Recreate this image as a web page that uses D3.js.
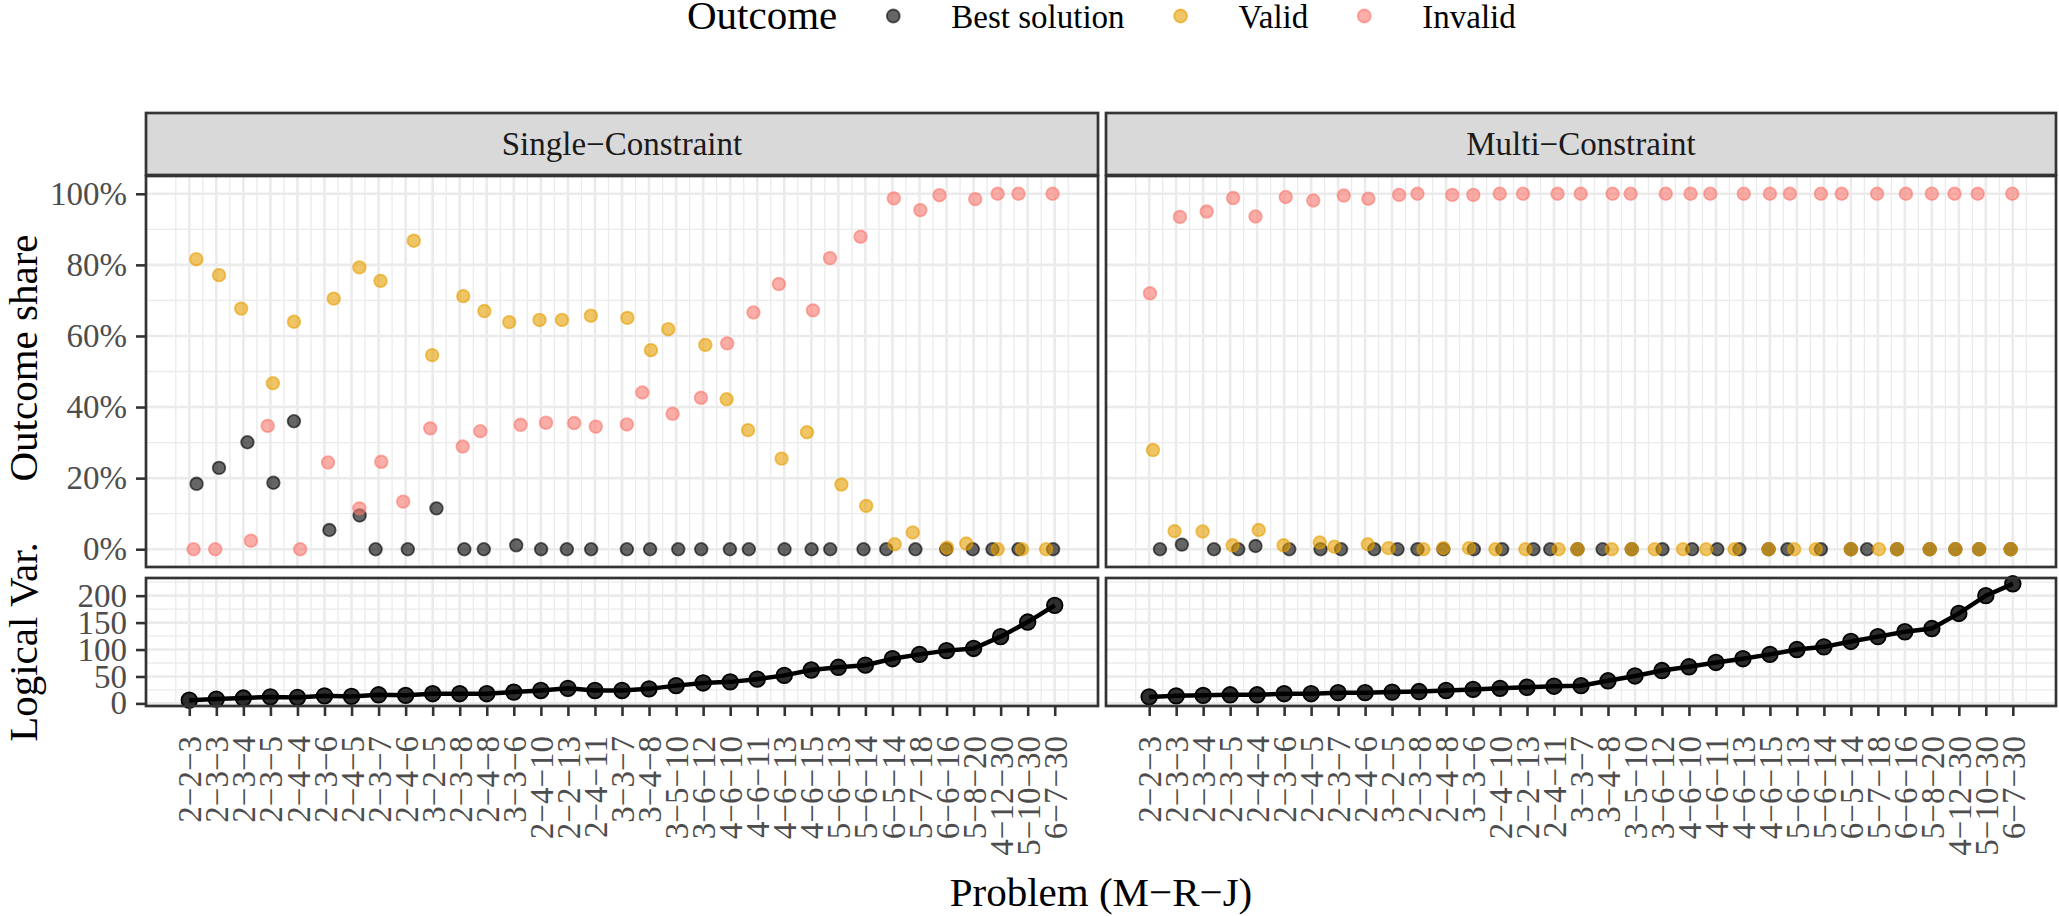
<!DOCTYPE html>
<html>
<head>
<meta charset="utf-8">
<script src="https://cdn.jsdelivr.net/npm/d3@7"></script>
<style>
body { margin: 0; background: #fff; }
svg text { font-family: "Liberation Serif", "Times New Roman", Times, serif !important; }
</style>
</head>
<body>
<div id="chart"></div>
<script>
// problems (M-R-J), same order in both facets
var problems = ["2−2−3", "2−3−3", "2−3−4", "2−3−5", "2−4−4", "2−3−6", "2−4−5", "2−3−7", "2−4−6", "3−2−5",
  "2−3−8", "2−4−8", "3−3−6", "2−4−10", "2−2−13", "2−4−11", "3−3−7", "3−4−8", "3−5−10", "3−6−12",
  "4−6−10", "4−6−11", "4−6−13", "4−6−15", "5−6−13", "5−6−14", "6−5−14", "5−7−18", "6−6−16", "5−8−20",
  "4−12−30", "5−10−30", "6−7−30"];

var outcomes = ["Best solution", "Valid", "Invalid"];
var outcomeColors = ["#000000", "#E69F00", "#F8766D"];

// outcome share in %
var singleBest = [18.4, 22.9, 30.1, 18.7, 36.0, 5.4, 9.5, 0, 0, 11.5, 0, 0, 1.1, 0, 0, 0, 0,
  0, 0, 0, 0, 0, 0, 0, 0, 0, 0, 0, 0, 0, 0, 0, 0];
var singleValid = [81.6, 77.1, 67.7, 46.7, 64.0, 70.5, 79.3, 75.5, 86.8, 54.6, 71.2, 67.0, 63.9, 64.5, 64.5, 65.7, 65.1,
  56.0, 61.9, 57.5, 42.2, 33.5, 25.5, 32.9, 18.2, 12.2, 1.4, 4.7, 0.4, 1.6, 0, 0, 0];
var singleInvalid = [0, 0, 2.4, 34.7, 0, 24.4, 11.5, 24.6, 13.4, 34.0, 28.9, 33.2, 35.0, 35.6, 35.5, 34.5, 35.1,
  44.1, 38.1, 42.6, 57.9, 66.6, 74.6, 67.2, 81.9, 87.9, 98.7, 95.4, 99.6, 98.5, 100, 100, 100];

var multiBest = [0, 1.3, 0, 0, 0.9, 0, 0, 0, 0, 0, 0, 0, 0, 0, 0, 0, 0,
  0, 0, 0, 0, 0, 0, 0, 0, 0, 0, 0, 0, 0, 0, 0, 0];
var multiValid = [27.9, 5.1, 5.0, 1.1, 5.4, 1.1, 1.9, 0.7, 1.4, 0.3, 0, 0.3, 0.3, 0, 0, 0, 0,
  0, 0, 0, 0, 0, 0, 0, 0, 0, 0, 0, 0, 0, 0, 0, 0];
var multiInvalid = [72.0, 93.5, 95.0, 98.8, 93.6, 99.1, 98.1, 99.5, 98.6, 99.7, 100, 99.7, 99.7, 100, 100, 100, 100,
  100, 100, 100, 100, 100, 100, 100, 100, 100, 100, 100, 100, 100, 100, 100, 100];

// horizontal jitter of the points (in problem units), as seen on the plot
var singleBestJitter = [0.27, 0.1, 0.15, 0.11, -0.13, 0.18, 0.3, -0.11, 0.08, 0.14, 0.17, -0.11, 0.09, 0.01, -0.04, -0.14, 0.18,
  0.04, 0.08, -0.07, -0.01, -0.31, 0.01, 0.01, -0.3, -0.07, -0.23, -0.15, -0.01, -0.03, -0.3, -0.34, -0.06];
var singleValidJitter = [0.26, 0.1, -0.08, 0.09, -0.13, 0.34, 0.29, 0.07, 0.3, -0.02, 0.13, -0.09, -0.17, -0.05, -0.22, -0.15, 0.2,
  0.07, -0.29, 0.08, -0.13, -0.34, -0.1, -0.16, 0.11, 0.03, 0.08, -0.25, 0.02, -0.27, -0.11, -0.21, -0.32];
var singleInvalidJitter = [0.16, -0.04, 0.28, -0.1, 0.1, 0.13, 0.29, 0.1, -0.09, -0.09, 0.11, -0.24, 0.25, 0.19, 0.23, 0.03, 0.18,
  -0.25, -0.13, -0.08, -0.11, -0.14, -0.2, 0.06, -0.31, -0.18, 0.05, 0.03, -0.26, 0.06, -0.11, -0.34, -0.08];
var multiBestJitter = [0.4, 0.21, 0.4, 0.3, -0.06, 0.19, 0.35, 0.11, 0.34, 0.2, -0.06, -0.1, 0.03, 0.08, 0.24, -0.14, -0.13,
  -0.2, -0.12, 0.02, 0.12, 0.05, -0.13, -0.05, -0.35, -0.11, 0, -0.4, -0.29, -0.08, -0.13, -0.25, -0.08];
var multiValidJitter = [0.14, -0.06, -0.02, 0.09, 0.06, -0.02, 0.32, -0.14, 0.1, -0.13, 0.16, -0.1, -0.15, -0.17, -0.06, 0.17, -0.13,
  0.14, -0.12, -0.27, -0.22, -0.36, -0.31, -0.05, -0.1, -0.3, 0, 0.04, -0.29, -0.08, -0.13, -0.25, -0.08];
var multiInvalidJitter = [0.03, 0.14, 0.13, 0.11, -0.06, 0.06, 0.08, 0.21, 0.12, 0.26, -0.06, 0.23, 0.01, -0.01, -0.15, 0.13, -0.01,
  0.17, -0.16, 0.14, 0.06, -0.21, 0.03, 0, -0.26, -0.11, -0.34, -0.03, 0.04, 0, -0.16, -0.3, -0.02];

// number of logical variables
var singleVars = [6, 8, 10, 12, 11, 14, 13, 16, 15, 18, 18, 18, 21, 24, 28, 24, 24,
  27, 33, 38, 40, 45, 52, 62, 67, 71, 83, 91, 98, 102, 124, 151, 182];
var multiVars = [12, 14, 15, 16, 16, 18, 18, 20, 20, 21, 22, 24, 26, 28, 30, 32, 33,
  42, 51, 61, 68, 76, 83, 91, 100, 105, 115, 124, 133, 139, 167, 200, 222];

var shareTicks = [0, 20, 40, 60, 80, 100];
var varTicks = [0, 50, 100, 150, 200];

var width = 2059, height = 916;
var serif = "'Liberation Serif', 'Times New Roman', Times, serif";
var stripTop = 113, stripBottom = 175;
var topY0 = 176, topY1 = 567, botY0 = 578, botY1 = 706;
var gridColor = "#EBEBEB", borderColor = "#333333", tickTextColor = "#4D4D4D";

var panels = [
  {title: "Single−Constraint", left: 146, right: 1098,
   series: [singleBest, singleValid, singleInvalid],
   jitter: [singleBestJitter, singleValidJitter, singleInvalidJitter], vars: singleVars},
  {title: "Multi−Constraint", left: 1106, right: 2056,
   series: [multiBest, multiValid, multiInvalid],
   jitter: [multiBestJitter, multiValidJitter, multiInvalidJitter], vars: multiVars}
];

var svg = d3.select("#chart").append("svg")
  .attr("width", width).attr("height", height)
  .attr("font-family", serif);
svg.append("rect").attr("width", width).attr("height", height).attr("fill", "#fff");

var n = problems.length;
var idx = d3.range(1, n + 1);
var xPad = (n - 1) * 0.05;

var yShare = d3.scaleLinear().domain([-5, 105]).range([topY1, topY0]);
var allVars = singleVars.concat(multiVars);
var vMin = d3.min(allVars), vMax = d3.max(allVars), vPad = (vMax - vMin) * 0.05;
var yVars = d3.scaleLinear().domain([vMin - vPad, vMax + vPad]).range([botY1, botY0]);

function drawGrid(g, x, y, yMajor, yStep, top, bottom, left, right) {
  var xMinor = d3.range(0.5, n + 1, 1);
  var yMinor = d3.range(-yStep / 2, d3.max(yMajor) + yStep, yStep)
    .filter(function (v) { return y(v) >= top && y(v) <= bottom; });
  g.append("rect").attr("x", left).attr("y", top)
    .attr("width", right - left).attr("height", bottom - top).attr("fill", "#fff");
  g.selectAll(null).data(xMinor).enter().append("line")
    .attr("x1", function (d) { return x(d); }).attr("x2", function (d) { return x(d); })
    .attr("y1", top).attr("y2", bottom)
    .attr("stroke", gridColor).attr("stroke-width", 1.3);
  g.selectAll(null).data(yMinor).enter().append("line")
    .attr("x1", left).attr("x2", right)
    .attr("y1", function (d) { return y(d); }).attr("y2", function (d) { return y(d); })
    .attr("stroke", gridColor).attr("stroke-width", 1.3);
  g.selectAll(null).data(idx).enter().append("line")
    .attr("x1", function (d) { return x(d); }).attr("x2", function (d) { return x(d); })
    .attr("y1", top).attr("y2", bottom)
    .attr("stroke", gridColor).attr("stroke-width", 2.6);
  g.selectAll(null).data(yMajor).enter().append("line")
    .attr("x1", left).attr("x2", right)
    .attr("y1", function (d) { return y(d); }).attr("y2", function (d) { return y(d); })
    .attr("stroke", gridColor).attr("stroke-width", 2.6);
}

function styleAxis(ax) {
  ax.attr("font-family", serif).attr("font-size", 33);
  ax.select(".domain").remove();
  ax.selectAll(".tick line").attr("stroke", borderColor).attr("stroke-width", 2.6);
  ax.selectAll(".tick text").attr("fill", tickTextColor);
}

panels.forEach(function (p, pi) {
  var x = d3.scaleLinear().domain([1 - xPad, n + xPad]).range([p.left, p.right]);
  var g = svg.append("g");

  // strip
  g.append("rect").attr("x", p.left).attr("y", stripTop)
    .attr("width", p.right - p.left).attr("height", stripBottom - stripTop)
    .attr("fill", "#D9D9D9").attr("stroke", borderColor).attr("stroke-width", 2.7);
  g.append("text").attr("x", (p.left + p.right) / 2).attr("y", (stripTop + stripBottom) / 2)
    .attr("dy", "0.33em").attr("text-anchor", "middle")
    .attr("font-size", 33).attr("fill", "#1A1A1A").text(p.title);

  // outcome share panel
  drawGrid(g, x, yShare, shareTicks, 20, topY0, topY1, p.left, p.right);
  p.series.forEach(function (vals, si) {
    var pts = idx.map(function (i) { return [i + p.jitter[si][i - 1], vals[i - 1]]; });
    g.append("g").selectAll("circle").data(pts).enter().append("circle")
      .attr("cx", function (d) { return x(d[0]); })
      .attr("cy", function (d) { return yShare(d[1]); })
      .attr("r", 6.3)
      .attr("fill", outcomeColors[si]).attr("fill-opacity", 0.6)
      .attr("stroke", outcomeColors[si]).attr("stroke-opacity", 0.6).attr("stroke-width", 1.8);
  });
  g.append("rect").attr("x", p.left).attr("y", topY0)
    .attr("width", p.right - p.left).attr("height", topY1 - topY0)
    .attr("fill", "none").attr("stroke", borderColor).attr("stroke-width", 2.7);

  // logical variables panel
  drawGrid(g, x, yVars, varTicks, 50, botY0, botY1, p.left, p.right);
  var varPts = idx.map(function (i) { return [i, p.vars[i - 1]]; });
  var line = d3.line()
    .x(function (d) { return x(d[0]); })
    .y(function (d) { return yVars(d[1]); });
  g.append("path").datum(varPts).attr("d", line)
    .attr("fill", "none").attr("stroke", "#000").attr("stroke-width", 4.5);
  g.append("g").selectAll("circle").data(varPts).enter().append("circle")
    .attr("cx", function (d) { return x(d[0]); })
    .attr("cy", function (d) { return yVars(d[1]); })
    .attr("r", 7.8)
    .attr("fill", "#000").attr("fill-opacity", 0.82)
    .attr("stroke", "#000").attr("stroke-width", 1.8);
  g.append("rect").attr("x", p.left).attr("y", botY0)
    .attr("width", p.right - p.left).attr("height", botY1 - botY0)
    .attr("fill", "none").attr("stroke", borderColor).attr("stroke-width", 2.7);

  // x axis
  var xAxis = g.append("g").attr("transform", "translate(0," + botY1 + ")")
    .call(d3.axisBottom(x).tickValues(idx).tickSize(10)
      .tickFormat(function (d) { return problems[d - 1]; }));
  styleAxis(xAxis);
  xAxis.selectAll(".tick text")
    .attr("transform", "rotate(-90)")
    .attr("text-anchor", "end")
    .attr("x", -30).attr("y", 0).attr("dy", "0.35em");

  // y axes only on the left facet
  if (pi === 0) {
    var yAxisTop = g.append("g").attr("transform", "translate(" + p.left + ",0)")
      .call(d3.axisLeft(yShare).tickValues(shareTicks).tickSize(10).tickPadding(9)
        .tickFormat(function (d) { return d + "%"; }));
    styleAxis(yAxisTop);
    var yAxisBot = g.append("g").attr("transform", "translate(" + p.left + ",0)")
      .call(d3.axisLeft(yVars).tickValues(varTicks).tickSize(10).tickPadding(9));
    styleAxis(yAxisBot);
  }
});

// axis titles
svg.append("text").attr("x", 1101).attr("y", 906).attr("text-anchor", "middle")
  .attr("font-size", 41).attr("fill", "#000").text("Problem (M−R−J)");
svg.append("text").attr("transform", "translate(37,358) rotate(-90)").attr("text-anchor", "middle")
  .attr("font-size", 41).attr("fill", "#000").text("Outcome share");
svg.append("text").attr("transform", "translate(37,642) rotate(-90)").attr("text-anchor", "middle")
  .attr("font-size", 41).attr("fill", "#000").text("Logical Var.");

// legend
var legend = svg.append("g");
var lx = 687, legendY = 16;
var title = legend.append("text").attr("x", lx).attr("y", legendY + 13)
  .attr("font-size", 41).attr("fill", "#000").text("Outcome");
lx += title.node().getComputedTextLength() + 56;
outcomes.forEach(function (o, i) {
  legend.append("circle").attr("cx", lx).attr("cy", legendY).attr("r", 6.5)
    .attr("fill", outcomeColors[i]).attr("fill-opacity", 0.6)
    .attr("stroke", outcomeColors[i]).attr("stroke-opacity", 0.6).attr("stroke-width", 1.8);
  var t = legend.append("text").attr("x", lx + 58).attr("y", legendY + 12)
    .attr("font-size", 33).attr("fill", "#000").text(o);
  lx += 58 + t.node().getComputedTextLength() + 56;
});
</script>
</body>
</html>
